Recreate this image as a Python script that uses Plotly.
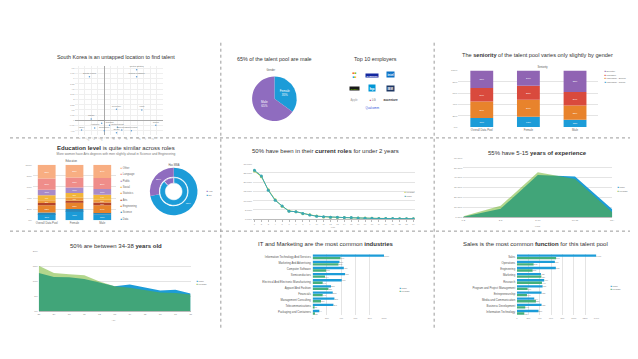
import numpy as np
import plotly.graph_objects as go

W, H = 638, 359
FONT = "Liberation Sans, Arial, sans-serif"

# ---------------- data ----------------
country_names = ["South Korea", "United States", "United Kingdom", "Germany", "India", "Japan",
                 "France", "Canada", "Netherlands", "Australia", "Israel", "Singapore",
                 "Sweden", "Switzerland", "China", "Spain"]
country_x = [-1.7, 3.7, 3.7, 1.4, 4.3, -1.5, -0.3, 0.6, 1.5, -1.1, -2.6, 0.0, 2.0, 3.1, 5.9, 1.4]
country_y = [6.3, 7.3, 6.3, 1.6, 1.5, 0.2, -0.4, -0.7, -1.0, -1.1, -1.4, -1.5, -1.4, -1.5, -0.7, -1.8]

gender_labels = ["Female", "Male"]
gender_values = [35, 65]

employer_names = ["Microsoft", "SAMSUNG", "intel", "NVIDIA", "hp", "IBM", "Apple", "LG", "accenture", "Qualcomm"]

groups = ["Overall Data Pool", "Female", "Male"]

seniority_levels = ["Individual - Junior", "Individual - Senior", "Manager", "Director"]
seniority_junior = [16, 18, 13]
seniority_senior = [29, 30, 25]
seniority_manager = [24, 25, 24]
seniority_director = [31, 27, 38]

education_levels = ["Data", "Science", "Engineering", "Arts", "Statistics", "Social", "Public", "Language", "Other"]
edu_data = [11, 17, 10]
edu_science = [3, 3, 3]
edu_engineering = [13, 12, 14]
edu_arts = [4, 3, 5]
edu_statistics = [5, 6, 5]
edu_social = [9, 8, 9]
edu_public = [10, 10, 10]
edu_language = [20, 18, 20]
edu_other = [25, 23, 24]

mba_labels = ["No", "Yes"]
mba_outer = [72, 28]
mba_inner = [88, 12]

role_years = list(range(1, 25))
role_male = [26.4, 23.4, 15.6, 10.2, 7.2, 4.3, 4.1, 3.1, 2.3, 1.6, 1.3, 1.1,
             1.1, 0.9, 0.9, 0.7, 0.5, 0.5, 0.4, 0.4, 0.4, 0.3, 0.3, 0.3]
role_female = [26.0, 23.0, 15.9, 10.5, 7.0, 4.5, 4.0, 3.0, 2.4, 1.7, 1.2, 1.1,
               1.0, 1.0, 0.8, 0.7, 0.6, 0.5, 0.4, 0.4, 0.3, 0.3, 0.3, 0.3]

exp_bins = ["0-2", "2-5", "5-10", "10-15", "15+"]
exp_male = [0.5, 8.5, 42.5, 41.0, 8.0]
exp_female = [1.0, 11.5, 45.5, 38.5, 5.0]

age_labels = ["28", "29", "30", "31", "32", "33", "34", "35", "36", "37", "38"]
age_male = [12.7, 11.4, 11.3, 10.7, 9.6, 8.3, 8.9, 8.0, 6.9, 7.2, 5.9]
age_female = [15.1, 12.7, 12.3, 12.0, 9.9, 8.3, 7.8, 7.0, 6.3, 6.1, 5.6]

industry_names = ["Information Technology And Services", "Marketing And Advertising", "Computer Software",
                  "Semiconductors", "Electrical And Electronic Manufacturing", "Apparel And Fashion",
                  "Financials", "Management Consulting", "Telecommunications", "Packaging and Containers"]
industry_male = [1000, 376, 437, 455, 408, 258, 282, 305, 291, 94]
industry_female = [390, 362, 188, 174, 141, 221, 141, 117, 23, 33]

function_names = ["Sales", "Operations", "Engineering", "Marketing", "Research",
                  "Program and Project Management", "Entrepreneurship", "Media and Communication",
                  "Business Development", "Information Technology"]
function_male = [1400, 668, 685, 422, 480, 451, 433, 304, 433, 380]
function_female = [690, 293, 275, 430, 440, 187, 176, 334, 146, 129]

# ---------------- colours ----------------
BLUE = "#1c9cd8"
ORANGE = "#e8832c"
RED = "#d94a3d"
PURPLE = "#9064b3"
GREEN_BAR = "#45b07c"
GREEN_AREA = "rgba(101,173,25,0.5)"
TEAL = "#3aa8b5"
LIME = "#b8cf55"
EDU_COLORS = ["#1c9bd7", "#2b86b8", "#e7832b", "#b5432a", "#ee9a3a", "#f2b53a", "#a98bc8", "#ef8d8a", "#f8ae82"]


def px_x(p):
    return p / W


def px_y(p):
    return 1 - p / H


def dom_x(a, b):
    return [a / W, b / W]


def dom_y(top, bottom):
    return [1 - bottom / H, 1 - top / H]


fig = go.Figure()
annotations = []
shapes = []

TICKF = dict(size=3, color="#808080", family=FONT)
GRID = "#e4e4e4"


def title(x, y, text, size=6):
    annotations.append(dict(x=px_x(x), y=px_y(y), xref="paper", yref="paper", text=text,
                            showarrow=False, font=dict(size=size, color="#333", family=FONT),
                            xanchor="center", yanchor="middle"))


def small(x, y, text, size=3, color="#555", anchor="center", bg=None):
    a = dict(x=px_x(x), y=px_y(y), xref="paper", yref="paper", text=text, showarrow=False,
             font=dict(size=size, color=color, family=FONT), xanchor=anchor, yanchor="middle",
             borderpad=0.5)
    if bg:
        a["bgcolor"] = bg
    annotations.append(a)


def legend(x, y0, step, items, size=3):
    for i, (lab, col) in enumerate(items):
        small(x, y0 + i * step, f"<span style='color:{col}'>■</span> {lab}", size=size,
              color="#666", anchor="left")


# ---------------- panel 1 : scatter ----------------
fig.add_trace(go.Scatter(x=country_x, y=country_y, mode="markers+text", text=country_names,
                         textposition="top center", textfont=dict(size=2.3, color="#777", family=FONT),
                         marker=dict(size=1.5, color="#5b9bd5"), xaxis="x", yaxis="y",
                         showlegend=False, cliponaxis=False))
title(107, 48, "South Korea is an untapped location to find talent", 5.4)

# ---------------- panel 2 : gender pie + employers ----------------
fig.add_trace(go.Pie(labels=gender_labels, values=gender_values, sort=False, direction="clockwise",
                     rotation=0, marker=dict(colors=[BLUE, "#8f6cbf"], line=dict(width=0)),
                     textinfo="label+percent", textposition="inside", insidetextorientation="horizontal",
                     textfont=dict(size=3, color="white", family=FONT),
                     domain=dict(x=dom_x(241, 292), y=dom_y(68, 113)), showlegend=False))
title(267, 50, "65% of the talent pool are male", 5.4)
small(263, 61, "Gender", 2.6)
title(368, 50, "Top 10 employers", 5.4)
small(347, 66, "<span style='color:#f25022'>■</span><span style='color:#7fba00'>■</span><br>"
               "<span style='color:#00a4ef'>■</span><span style='color:#ffb900'>■</span>", 3.2)
small(365, 67, "<b>SAMSUNG</b>", 2.2, "white", bg="#1428a0")
small(384, 66, "<b>intel</b>", 3, "white", bg="#0b71c5")
small(347, 80, "<b>NVIDIA</b>", 2.3, "#76b900", bg="#1a1a1a")
small(365, 80, "<b>hp</b>", 4, "white", bg="#0096d6")
small(384, 80, "<b>IBM</b>", 3, "white", bg="#1f3864")
small(347, 91, "Apple", 2.8, "#999")
small(365, 91, "<span style='color:#a50034'>●</span> LG", 2.8, "#666")
small(384, 91, "<b>accenture</b>", 3, "#333")
small(365, 99, "Qualcomm", 2.8, "#3253dc")


# ---------------- panel 3 : seniority stacked bars ----------------
def stacked(layers, colors, names, xa, ya, width):
    base = np.zeros(len(groups))
    for vals, c, n in zip(layers, colors, names):
        fig.add_trace(go.Bar(x=groups, y=vals, base=base.copy(), width=width, name=n,
                             marker=dict(color=c, line=dict(width=0)),
                             text=[f"{v}%" if v >= 5 else None for v in vals], textposition="inside",
                             insidetextanchor="middle", constraintext="none",
                             textfont=dict(size=2.3, color="white", family=FONT),
                             xaxis=xa, yaxis=ya, showlegend=False))
        base = base + np.array(vals)


stacked([seniority_junior, seniority_senior, seniority_manager, seniority_director],
        [BLUE, ORANGE, RED, PURPLE], seniority_levels, "x2", "y2", 0.49)
title(532, 46, "The <b>seniority</b> of the talent pool varies only slightly by gender", 5.6)
small(537, 58, "Seniority", 2.6)
legend(598, 63, 3.4, [("Director", PURPLE), ("Manager", RED), ("Individual - Senior", ORANGE),
                      ("Individual - Junior", BLUE)], 2.4)

# ---------------- panel 4 : education ----------------
stacked([edu_data, edu_science, edu_engineering, edu_arts, edu_statistics, edu_social,
         edu_public, edu_language, edu_other], EDU_COLORS, education_levels, "x3", "y3", 0.64)
title(107, 140, "<b>Education level</b> is quite similar across roles", 6)
small(107, 146, "More women have Arts degrees with men slightly ahead in Science and Engineering", 3.2, "#777")
small(62, 153, "Education", 2.6)
legend(110, 160, 6.35, list(zip(education_levels[::-1], EDU_COLORS[::-1])), 2.6)

fig.add_trace(go.Pie(labels=mba_labels, values=mba_outer, sort=False, direction="clockwise", rotation=0,
                     hole=0.62, marker=dict(colors=[BLUE, "#8f6cbf"], line=dict(width=0)),
                     textinfo="percent", textfont=dict(size=2.5, color="white", family=FONT),
                     domain=dict(x=dom_x(140, 190), y=dom_y(160, 208)), showlegend=False))
fig.add_trace(go.Pie(labels=mba_labels, values=mba_inner, sort=False, direction="clockwise", rotation=0,
                     hole=0.6, marker=dict(colors=[BLUE, "#8f6cbf"], line=dict(width=0.6, color="white")),
                     textinfo="none",
                     domain=dict(x=dom_x(151, 179), y=dom_y(170, 198)), showlegend=False))
small(165, 157, "Has MBA", 2.6)
legend(197, 184, 3.5, [("Yes", "#8f6cbf"), ("No", BLUE)], 2.4)

# ---------------- panel 5 : current role line ----------------
fig.add_trace(go.Scatter(x=role_years, y=role_female, mode="lines+markers", name="Female",
                         line=dict(color=LIME, width=1), marker=dict(size=3, color=LIME),
                         xaxis="x4", yaxis="y4", showlegend=False))
fig.add_trace(go.Scatter(x=role_years, y=role_male, mode="lines+markers", name="Male",
                         line=dict(color=TEAL, width=1), marker=dict(size=3, color=TEAL),
                         xaxis="x4", yaxis="y4", showlegend=False))
title(318, 143, "50% have been in their <b>current roles</b> for under 2 years", 6)
legend(396, 185, 3.4, [("Female", LIME), ("Male", TEAL)], 2.4)
small(326, 219.5, "Year", 2.2, "#888")

# ---------------- panel 6 : experience area ----------------
fig.add_trace(go.Scatter(x=exp_bins, y=exp_male, mode="lines", fill="tozeroy", name="Male",
                         line=dict(width=0, color=BLUE), fillcolor=BLUE,
                         xaxis="x5", yaxis="y5", showlegend=False))
fig.add_trace(go.Scatter(x=exp_bins, y=exp_female, mode="lines", fill="tozeroy", name="Female",
                         line=dict(width=0, color=GREEN_AREA), fillcolor=GREEN_AREA,
                         xaxis="x5", yaxis="y5", showlegend=False))
title(532, 145, "55% have 5-15 <b>years of experience</b>", 6)
legend(611, 180, 3.4, [("Male", BLUE), ("Female", "#8fc26b")], 2.4)
small(532, 218, "Years", 2.2, "#888")

# ---------------- panel 7 : age area ----------------
fig.add_trace(go.Scatter(x=age_labels, y=age_male, mode="lines", fill="tozeroy", name="Male",
                         line=dict(width=0, color=BLUE), fillcolor=BLUE,
                         xaxis="x6", yaxis="y6", showlegend=False))
fig.add_trace(go.Scatter(x=age_labels, y=age_female, mode="lines", fill="tozeroy", name="Female",
                         line=dict(width=0, color=GREEN_AREA), fillcolor=GREEN_AREA,
                         xaxis="x6", yaxis="y6", showlegend=False))
title(107, 239, "50% are between 34-38 <b>years old</b>", 6)
legend(186, 274, 3.4, [("Male", BLUE), ("Female", "#8fc26b")], 2.4)
small(105, 313.5, "Age", 2.2, "#888")


# ---------------- panel 8/9 : grouped horizontal bars ----------------
def hbars(names, male, female, xa, ya):
    for vals, col, nm, off in [(male, BLUE, "Male", -0.41), (female, GREEN_BAR, "Female", 0.0)]:
        fig.add_trace(go.Bar(y=names, x=vals, orientation="h", name=nm, width=0.38, offset=off,
                             marker=dict(color=col, line=dict(width=0)),
                             text=vals, textposition="outside", constraintext="none",
                             textfont=dict(size=2.2, color="#888", family=FONT), cliponaxis=False,
                             xaxis=xa, yaxis=ya, showlegend=False))


hbars(industry_names, industry_male, industry_female, "x7", "y7")
title(318, 237, "IT and Marketing are the most common <b>industries</b>", 6)
legend(391, 281, 3.4, [("Male", BLUE), ("Female", GREEN_BAR)], 2.4)

hbars(function_names, function_male, function_female, "x8", "y8")
title(530, 237, "Sales is the most common <b>function</b> for this talent pool", 6)
legend(604, 279, 3.4, [("Male", BLUE), ("Female", GREEN_BAR)], 2.4)

# ---------------- separators ----------------
SEP = dict(color="#9a9a9a", width=1, dash="dot")
for xv in (212.5, 427.5):
    shapes.append(dict(type="line", xref="paper", yref="paper", x0=px_x(xv), x1=px_x(xv),
                       y0=px_y(34), y1=px_y(322), line=SEP))
for yv in (130, 224):
    shapes.append(dict(type="line", xref="paper", yref="paper", x0=0, x1=1,
                       y0=px_y(yv), y1=px_y(yv), line=SEP))


# ---------------- axes ----------------
def ax(domain, anchor, **kw):
    d = dict(domain=domain, anchor=anchor, tickfont=TICKF, gridcolor=GRID, gridwidth=0.5,
             zeroline=False, showline=False, ticklen=0, fixedrange=True)
    d.update(kw)
    return d


layout = dict(
    width=W, height=H, margin=dict(l=0, r=0, t=0, b=0),
    paper_bgcolor="white", plot_bgcolor="white", barmode="overlay",
    font=dict(family=FONT, color="#444"),
    # panel 1
    xaxis=ax(dom_x(66, 154), "y", range=[-3.3, 6.7], dtick=0.75, tick0=0, gridcolor="#efefef",
             zeroline=True, zerolinecolor="#aaa", zerolinewidth=0.6, tickfont=dict(size=2.2, color="#999")),
    yaxis=ax(dom_y(57, 127), "x", range=[-2.1, 7.9], dtick=0.75, tick0=0, gridcolor="#efefef",
             zeroline=True, zerolinecolor="#aaa", zerolinewidth=0.6, tickfont=dict(size=2.2, color="#999")),
    # panel 3
    xaxis2=ax(dom_x(452, 593), "y2", type="category", showgrid=False,
              tickfont=dict(size=2.8, color="#666")),
    yaxis2=ax(dom_y(62, 119), "x2", range=[0, 100], dtick=20, ticksuffix="%",
              tickfont=dict(size=2.5, color="#888")),
    # panel 4
    xaxis3=ax(dom_x(23, 107), "y3", type="category", showgrid=False,
              tickfont=dict(size=2.8, color="#666")),
    yaxis3=ax(dom_y(157, 213), "x3", range=[0, 100], dtick=20, ticksuffix="%",
              tickfont=dict(size=2.5, color="#888")),
    # panel 5
    xaxis4=ax(dom_x(245, 408), "y4", range=[0.8, 24.2], dtick=1, showgrid=False, showline=True,
              linecolor="#bbb", linewidth=0.5, ticks="outside", ticklen=2, tickcolor="#bbb",
              tickwidth=0.5, tickfont=dict(size=2.2, color="#999")),
    yaxis4=ax(dom_y(156, 212), "x4", range=[0, 30], dtick=5, tickformat=".2f", ticksuffix="%",
              tickfont=dict(size=2.5, color="#888")),
    # panel 6
    xaxis5=ax(dom_x(457, 607), "y5", type="category", range=[0, 4], showgrid=False,
              showline=True, linecolor="#bbb", linewidth=0.5, tickfont=dict(size=2.5, color="#888")),
    yaxis5=ax(dom_y(150, 210), "x5", range=[0, 60], dtick=10, tickformat=".2f", ticksuffix="%",
              tickfont=dict(size=2.5, color="#888")),
    # panel 7
    xaxis6=ax(dom_x(29, 182), "y6", type="category", range=[0, 10], showgrid=False,
              showline=True, linecolor="#bbb", linewidth=0.5, tickfont=dict(size=2.5, color="#888")),
    yaxis6=ax(dom_y(244, 305), "x6", range=[0, 20], dtick=5, ticksuffix="%",
              tickfont=dict(size=2.5, color="#888")),
    # panel 8
    xaxis7=ax(dom_x(305, 377), "y7", range=[0, 1000], dtick=200, tickfont=dict(size=2.3, color="#888")),
    yaxis7=ax(dom_y(247, 309), "x7", type="category", autorange="reversed", showgrid=False,
              ticksuffix=" ", tickfont=dict(size=2.8, color="#555")),
    # panel 9
    xaxis8=ax(dom_x(511, 591), "y8", range=[0, 1400], dtick=200, tickfont=dict(size=2.3, color="#888")),
    yaxis8=ax(dom_y(247, 309), "x8", type="category", autorange="reversed", showgrid=False,
              ticksuffix=" ", tickfont=dict(size=2.8, color="#555")),
    annotations=annotations, shapes=shapes,
)
fig.update_layout(**layout)
fig.write_html("out.html")
